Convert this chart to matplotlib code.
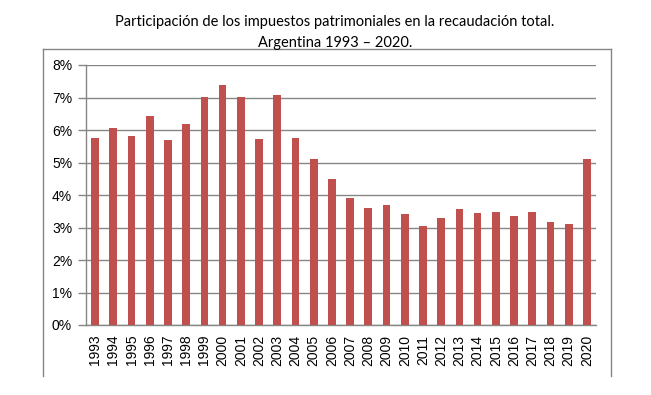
import matplotlib
matplotlib.use("Agg")
import matplotlib.pyplot as plt
from matplotlib.lines import Line2D

years = [str(y) for y in range(1993, 2021)]
values = [5.76, 6.07, 5.82, 6.43, 5.70, 6.19, 7.01, 7.39, 7.01, 5.73,
          7.08, 5.76, 5.11, 4.50, 3.91, 3.61, 3.70, 3.42, 3.05, 3.30,
          3.58, 3.45, 3.48, 3.36, 3.48, 3.18, 3.11, 5.11]
yticks = [0, 1, 2, 3, 4, 5, 6, 7, 8]
ytick_labels = [f"{v}%" for v in yticks]
title = "Participación de los impuestos patrimoniales en la recaudación total.\nArgentina 1993 – 2020."

W, H = 651, 395
fig = plt.figure(figsize=(W / 100, H / 100), dpi=100)
ax = fig.add_axes([86 / W, 1 - 325 / H, (596 - 86) / W, (325 - 65) / H])

grid_c = "#868686"
bar_c = "#C0504D"

x = list(range(len(years)))
ax.bar(x, values, width=0.42, color=bar_c, zorder=3)
ax.set_xlim(-0.5, len(years) - 0.5)
ax.set_ylim(0, 8)
ax.set_yticks(yticks)
ax.set_yticklabels(ytick_labels, family="Liberation Sans", fontsize=10)
ax.set_xticks(x)
ax.set_xticklabels(years, rotation=90, family="Liberation Sans", fontsize=10)
ax.tick_params(axis="x", length=0, pad=7)
ax.tick_params(axis="y", length=6, width=1, color=grid_c, pad=4, direction="out")
ax.yaxis.grid(True, color=grid_c, linewidth=1, zorder=0)
for s in ["top", "right"]:
    ax.spines[s].set_visible(False)
ax.spines["left"].set_color(grid_c)
ax.spines["bottom"].set_color(grid_c)
ax.spines["left"].set_linewidth(1)
ax.spines["bottom"].set_linewidth(1)

# outer chart frame (left, top, right)
fx0, fx1, fy0, fy1 = 43 / W, 611 / W, 1 - 376 / H, 1 - 49 / H
for xs, ys in [([fx0, fx0], [fy0, fy1]), ([fx0, fx1], [fy1, fy1]), ([fx1, fx1], [fy1, fy0])]:
    fig.add_artist(Line2D(xs, ys, transform=fig.transFigure, color=grid_c, linewidth=1))

fig.text(335 / W, 1 - 32.5 / H, title, ha="center", va="center", family="Lato",
         fontsize=10.5, linespacing=1.7)

fig.savefig("out.png", dpi=100)
